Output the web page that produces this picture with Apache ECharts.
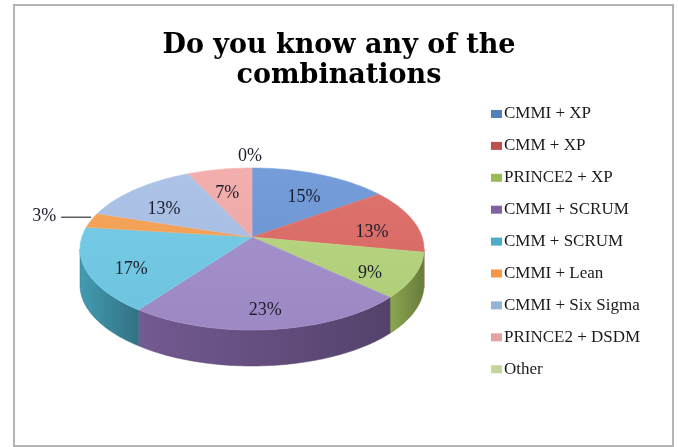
<!DOCTYPE html>
<html>
<head>
<meta charset="utf-8">
<script src="https://cdn.jsdelivr.net/npm/echarts@6/dist/echarts.min.js"></script>
<style>
  html, body { margin: 0; padding: 0; background: #ffffff; }
  #chart { width: 678px; height: 447px; }
</style>
</head>
<body>
<div id="chart"></div>
<script>
// Survey answers: which process/method combinations respondents know
const categories = ['CMMI + XP', 'CMM + XP', 'PRINCE2 + XP', 'CMMI + SCRUM', 'CMM + SCRUM',
                    'CMMI + Lean', 'CMMI + Six Sigma', 'PRINCE2 + DSDM', 'Other'];
const shares = [15, 13, 9, 23, 17, 3, 13, 7, 0];
// key colours (legend) and the lit top-face colours of each slice
const palette = ['#4F81BD', '#C0504D', '#9BBB59', '#8064A2', '#4BACC6',
                 '#F79646', '#95B3D7', '#E6A1A0', '#C3D69B'];
const faceColors = ['#6b97d7', '#dd6a65', '#b6d57c', '#a28ecb', '#70cbe6',
                    '#f7a052', '#a8bfe5', '#f2aaa8', '#d5e4b8'];

// Tilted-disc geometry
const CX = 252, CY = 249, RX = 172, RY = 81, DEPTH = 36;
const T = -0.148;            // perspective pull of the disc centre toward the back
const LABEL_R = 0.74, LABEL_DROP = 8;
const LEADER = 30, LEADER_GAP = 5;

function shade(hex, f) {
  const n = parseInt(hex.slice(1), 16);
  let r = (n >> 16) & 255, g = (n >> 8) & 255, b = n & 255;
  if (f >= 0) { r += (255 - r) * f; g += (255 - g) * f; b += (255 - b) * f; }
  else { r *= 1 + f; g *= 1 + f; b *= 1 + f; }
  return 'rgb(' + Math.round(r) + ',' + Math.round(g) + ',' + Math.round(b) + ')';
}

// Map a point of the flat disc (radius r, angle from 12 o'clock clockwise) to screen
function project(r, theta) {
  const u = r * Math.sin(theta), v = -r * Math.cos(theta);
  const d = 1 + T * v;
  return [CX + RX * u * Math.sqrt(1 - T * T) / d, CY + RY * (v + T) / d];
}

function arc(a, b, r, dy) {
  const pts = [];
  const steps = Math.max(2, Math.ceil((b - a) / (Math.PI / 180)));
  for (let i = 0; i <= steps; i++) {
    const p = project(r, a + (b - a) * i / steps);
    pts.push([p[0], p[1] + dy]);
  }
  return pts;
}

const total = shares.reduce((s, v) => s + v, 0);
const starts = [];
shares.reduce((acc, v) => { starts.push(acc); return acc + v; }, 0);

const FRONT_A = Math.acos(T), FRONT_B = 2 * Math.PI - Math.acos(T);
const labelFont = '18px "Liberation Serif", serif';

function renderSlice(params, api) {
  const i = params.dataIndex;
  const value = api.value(0);
  const a = starts[i] / total * 2 * Math.PI;
  const b = (starts[i] + value) / total * 2 * Math.PI;
  const color = palette[i];
  const face = faceColors[i];
  const children = [];

  if (value > 0) {
    // outer wall, only where it faces the viewer
    const lo = Math.max(a, FRONT_A), hi = Math.min(b, FRONT_B);
    if (lo < hi) {
      const top = arc(lo, hi, 1, 0);
      const bottom = arc(lo, hi, 1, DEPTH).reverse();
      children.push({
        type: 'polygon',
        shape: { points: top.concat(bottom) },
        style: {
          fill: new echarts.graphic.LinearGradient(0, 0, 1, 0, [
            { offset: 0, color: shade(color, -0.1) },
            { offset: 1, color: shade(color, -0.34) }
          ]),
          stroke: shade(color, -0.3), lineWidth: 0.5
        }
      });
    }
    // top face
    children.push({
      type: 'polygon',
      shape: { points: [project(0, 0)].concat(arc(a, b, 1, 0)) },
      style: {
        fill: new echarts.graphic.LinearGradient(0, CY - RY, 0, CY + RY, [
          { offset: 0, color: shade(face, 0.06) },
          { offset: 1, color: shade(face, -0.04) }
        ], true),
        stroke: shade(face, 0.1), lineWidth: 0.6
      }
    });
  }

  // percentage label
  const mid = (a + b) / 2;
  const text = Math.round(value / total * 100) + '%';
  if (value >= 5) {
    const p = project(LABEL_R, mid);
    children.push({
      type: 'text',
      style: { x: p[0], y: p[1] + LABEL_DROP, text: text, font: labelFont, fill: '#1c1c2c', align: 'center', verticalAlign: 'middle' }
    });
  } else {
    const rim = project(1, mid);
    const s = Math.sin(mid);
    if (Math.abs(s) > 0.5) {
      const dir = s > 0 ? 1 : -1;
      const end = [rim[0] + dir * LEADER, rim[1] - 3];
      children.push({
        type: 'polyline',
        shape: { points: [[rim[0], rim[1] - 3], end] },
        style: { stroke: '#5a5a5a', lineWidth: 1.5, fill: null }
      });
      children.push({
        type: 'text',
        style: { x: end[0] + dir * LEADER_GAP, y: end[1] - 1, text: text, font: labelFont, fill: '#1c1c2c',
                 align: dir > 0 ? 'left' : 'right', verticalAlign: 'middle' }
      });
    } else {
      const up = Math.cos(mid) > 0;
      children.push({
        type: 'text',
        style: { x: rim[0] - 2, y: up ? rim[1] - 12 : rim[1] + DEPTH + 12, text: text, font: labelFont,
                 fill: '#1c1c2c', align: 'center', verticalAlign: 'middle' }
      });
    }
  }
  return { type: 'group', children: children };
}

const chart = echarts.init(document.getElementById('chart'), null, { renderer: 'canvas' });
chart.setOption({
  animation: false,
  backgroundColor: '#ffffff',
  title: {
    text: 'Do you know any of the\ncombinations',
    left: 'center',
    top: 31,
    padding: 0,
    textStyle: { fontFamily: '"DejaVu Serif", serif', fontWeight: 'bold', fontSize: 27, lineHeight: 30, color: '#000000' }
  },
  graphic: [{
    type: 'rect',
    shape: { x: 14, y: 5, width: 659, height: 441 },
    style: { fill: null, stroke: '#b4b4b4', lineWidth: 2 },
    silent: true
  }],
  legend: {
    orient: 'vertical',
    left: 486,
    top: 99,
    itemWidth: 11,
    itemHeight: 8,
    itemGap: 11.9,
    icon: 'rect',
    selectedMode: false,
    data: categories,
    textStyle: { fontFamily: '"Liberation Serif", serif', fontSize: 17, lineHeight: 20, color: '#1a1a1a', padding: [0, 0, 0, -3] }
  },
  series: [
    {
      // carries the category colours for the legend
      type: 'pie',
      name: 'legend-keys',
      radius: [0, 0],
      center: [CX, CY],
      silent: true,
      label: { show: false },
      labelLine: { show: false },
      data: categories.map((c, i) => ({ name: c, value: shares[i], itemStyle: { color: palette[i] } }))
    },
    {
      type: 'custom',
      name: 'combinations',
      coordinateSystem: 'none',
      silent: true,
      renderItem: renderSlice,
      data: shares.map(v => [v])
    }
  ]
});
</script>
</body>
</html>
